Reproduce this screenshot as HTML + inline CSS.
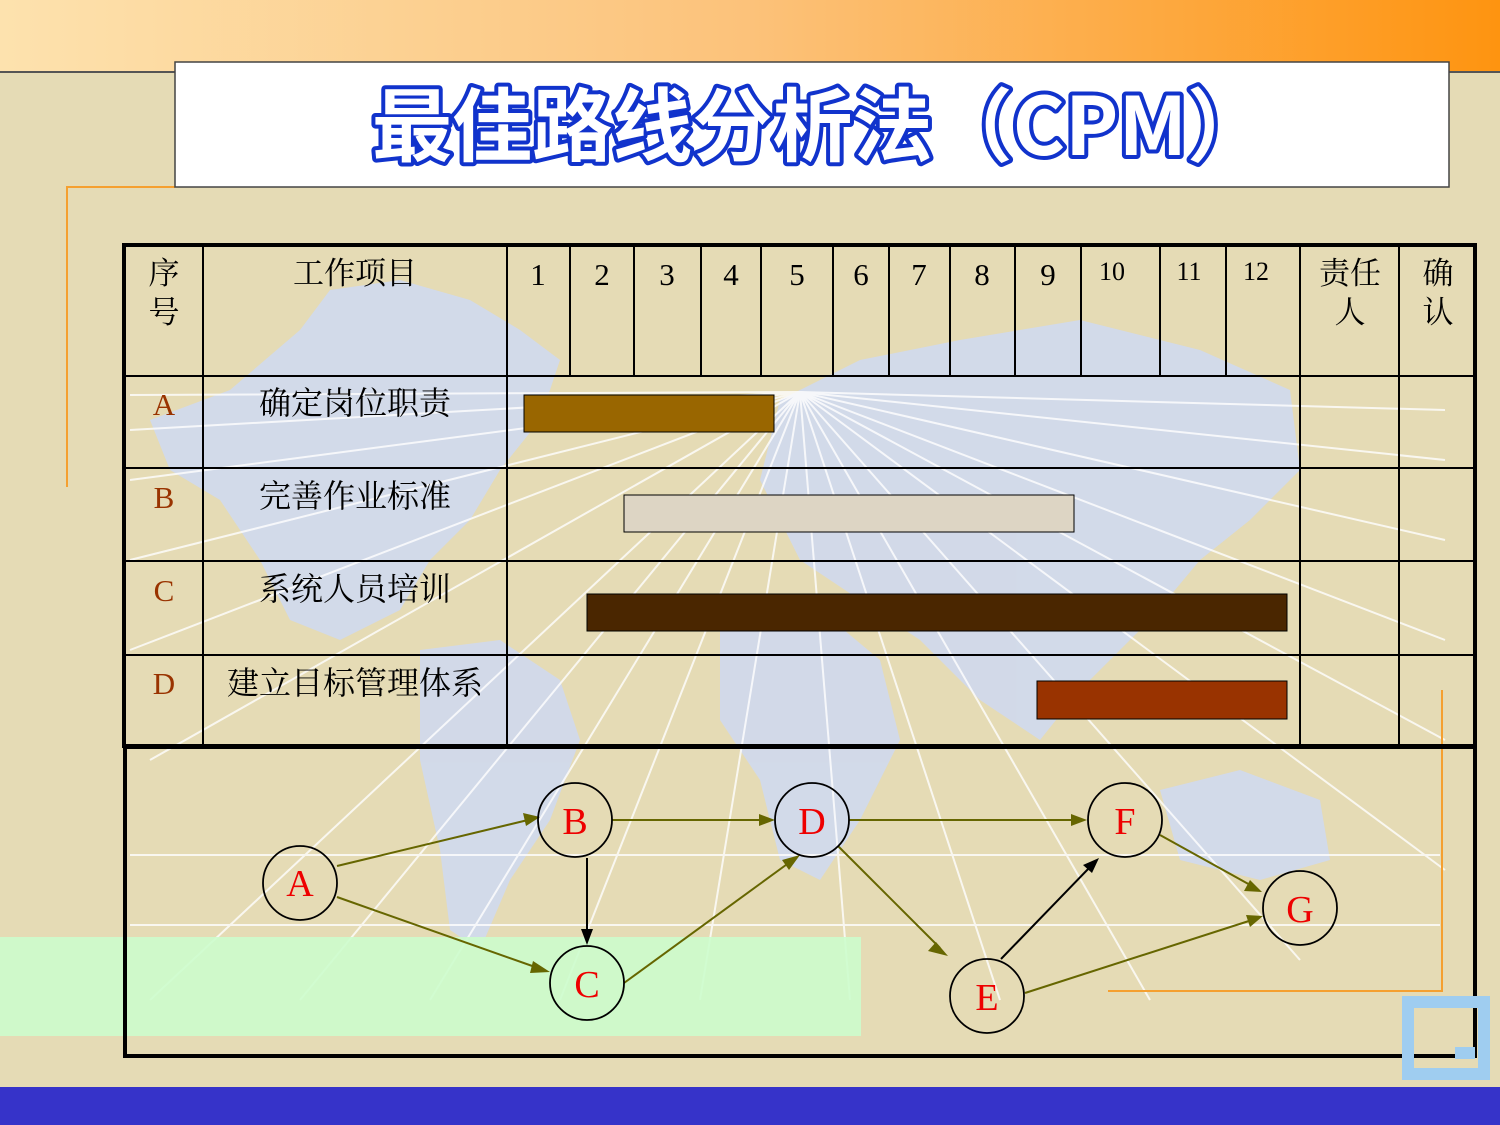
<!DOCTYPE html>
<html><head><meta charset="utf-8"><style>
html,body{margin:0;padding:0;width:1500px;height:1125px;overflow:hidden;background:#e5dbb5;}
svg{display:block}
</style></head><body>
<svg width="1500" height="1125" viewBox="0 0 1500 1125" xmlns="http://www.w3.org/2000/svg">
<defs>
<linearGradient id="tg" x1="0" x2="1" y1="0" y2="0">
<stop offset="0" stop-color="#fde2ae"/><stop offset="0.5" stop-color="#fcc27a"/><stop offset="1" stop-color="#fe9410"/>
</linearGradient>
</defs>
<rect width="1500" height="1125" fill="#e5dbb5"/>
<g fill="#cfd9f2" opacity="0.85">
<path d="M150 420 L230 390 L300 330 L330 290 L400 280 L470 300 L520 330 L560 360 L540 420 L500 470 L470 520 L430 560 L400 610 L340 640 L290 620 L260 560 L220 500 L170 470 Z"/>
<path d="M420 650 L500 640 L560 680 L580 740 L550 820 L510 880 L480 950 L450 930 L440 850 L420 760 Z"/>
<path d="M780 400 L860 360 L960 340 L1080 320 L1200 350 L1290 390 L1300 470 L1250 520 L1200 560 L1150 620 L1080 690 L1040 740 L980 700 L920 640 L860 600 L800 560 L760 480 Z"/>
<path d="M720 620 L820 610 L880 660 L900 740 L860 820 L820 880 L780 860 L760 780 L720 720 Z"/>
<path d="M1160 790 L1240 770 L1320 800 L1330 860 L1260 880 L1180 860 Z"/>
</g>
<g stroke="#ffffff" stroke-width="2" opacity="0.8">
<line x1="800" y1="392" x2="130" y2="395"/><line x1="800" y1="392" x2="130" y2="430"/><line x1="800" y1="392" x2="130" y2="480"/><line x1="800" y1="392" x2="130" y2="560"/><line x1="800" y1="392" x2="130" y2="650"/><line x1="800" y1="392" x2="150" y2="760"/><line x1="800" y1="392" x2="150" y2="1000"/><line x1="800" y1="392" x2="300" y2="1000"/><line x1="800" y1="392" x2="430" y2="1000"/><line x1="800" y1="392" x2="560" y2="1000"/><line x1="800" y1="392" x2="700" y2="1000"/><line x1="800" y1="392" x2="850" y2="1000"/><line x1="800" y1="392" x2="1000" y2="1000"/><line x1="800" y1="392" x2="1150" y2="1000"/><line x1="800" y1="392" x2="1300" y2="960"/><line x1="800" y1="392" x2="1445" y2="870"/><line x1="800" y1="392" x2="1445" y2="740"/><line x1="800" y1="392" x2="1445" y2="640"/><line x1="800" y1="392" x2="1445" y2="540"/><line x1="800" y1="392" x2="1445" y2="460"/><line x1="800" y1="392" x2="1445" y2="410"/>
<line x1="130" y1="855" x2="1440" y2="855"/><line x1="130" y1="925" x2="1440" y2="925"/>
</g>
<rect x="0" y="0" width="1500" height="72" fill="url(#tg)"/>
<line x1="0" y1="72" x2="1500" y2="72" stroke="#555" stroke-width="2"/>
<g stroke="#f5a030" stroke-width="2" fill="none">
<path d="M175 187 H67 V487"/>
<path d="M1442 690 V991 H1108"/>
</g>
<rect x="175" y="62" width="1274" height="125" fill="#fff" stroke="#444" stroke-width="1.5"/>
<text x="372" y="155" textLength="895" lengthAdjust="spacingAndGlyphs" font-family="'WenQuanYi Zen Hei','Noto Sans CJK SC',sans-serif" font-size="80" font-weight="bold" fill="#fff" stroke="#1133cc" stroke-width="8" stroke-linejoin="round" paint-order="stroke">最佳路线分析法（CPM）</text>
<rect x="0" y="937" width="861" height="99" fill="#ccfccc" opacity="0.9"/>
<rect x="524" y="395" width="250" height="37" fill="#996600" stroke="#000"/>
<rect x="624" y="495" width="450" height="37" fill="#ddd5c4" stroke="#000"/>
<rect x="587" y="594" width="700" height="37" fill="#4a2600" stroke="#000"/>
<rect x="1037" y="681" width="250" height="38" fill="#993300" stroke="#000"/>
<g stroke="#000" fill="none">
<rect x="124" y="245" width="1351" height="501" stroke-width="4"/>
<line x1="124" y1="376" x2="1475" y2="376" stroke-width="2"/>
<line x1="124" y1="468" x2="1475" y2="468" stroke-width="2"/>
<line x1="124" y1="561" x2="1475" y2="561" stroke-width="2"/>
<line x1="124" y1="655" x2="1475" y2="655" stroke-width="2"/>
<g stroke-width="2">
<line x1="203" y1="245" x2="203" y2="746"/><line x1="507" y1="245" x2="507" y2="746"/><line x1="1300" y1="245" x2="1300" y2="746"/><line x1="1399" y1="245" x2="1399" y2="746"/>
<line x1="570" y1="245" x2="570" y2="376"/><line x1="634" y1="245" x2="634" y2="376"/><line x1="701" y1="245" x2="701" y2="376"/><line x1="761" y1="245" x2="761" y2="376"/><line x1="833" y1="245" x2="833" y2="376"/><line x1="889" y1="245" x2="889" y2="376"/><line x1="950" y1="245" x2="950" y2="376"/><line x1="1015" y1="245" x2="1015" y2="376"/><line x1="1081" y1="245" x2="1081" y2="376"/><line x1="1160" y1="245" x2="1160" y2="376"/><line x1="1226" y1="245" x2="1226" y2="376"/>
</g>
<rect x="125" y="747" width="1350" height="309" stroke-width="4"/>
</g>
<g font-family="'Liberation Serif','Noto Serif CJK SC',serif" font-size="31" fill="#000" text-anchor="middle">
<text x="164" y="284">序</text><text x="164" y="323">号</text>
<text x="355" y="284">工作项目</text>
<text x="538" y="285">1</text><text x="602" y="285">2</text><text x="667" y="285">3</text><text x="731" y="285">4</text><text x="797" y="285">5</text><text x="861" y="285">6</text><text x="919" y="285">7</text><text x="982" y="285">8</text><text x="1048" y="285">9</text>
<text x="1112" y="280" font-size="26">10</text><text x="1189" y="280" font-size="26">11</text><text x="1256" y="280" font-size="26">12</text>
<text x="1350" y="284">责任</text><text x="1350" y="323">人</text>
<text x="1438" y="284">确</text><text x="1438" y="323">认</text>
<text x="355" y="414" font-size="32">确定岗位职责</text><text x="355" y="507" font-size="32">完善作业标准</text><text x="355" y="600" font-size="32">系统人员培训</text><text x="355" y="694" font-size="32">建立目标管理体系</text>
<g fill="#993300"><text x="164" y="415">A</text><text x="164" y="508">B</text><text x="164" y="601">C</text><text x="164" y="694">D</text></g>
</g>
<g fill="none" stroke-width="2">
<g stroke="#666600">
<line x1="337" y1="866" x2="528" y2="820"/><line x1="337" y1="897" x2="538" y2="968"/><line x1="612" y1="820" x2="764" y2="820"/><line x1="624" y1="983" x2="790" y2="862"/><line x1="849" y1="820" x2="1076" y2="820"/><line x1="838" y1="846" x2="940" y2="948"/><line x1="1025" y1="993" x2="1252" y2="920"/><line x1="1160" y1="835" x2="1252" y2="886"/>
</g>
<g stroke="#000"><line x1="587" y1="858" x2="587" y2="933"/><line x1="1001" y1="959" x2="1091" y2="866"/></g>
</g>
<g fill="#666600">
<polygon points="540,817 523,813 526,826"/>
<polygon points="550,972 533,961 530,973"/>
<polygon points="775,820 759,814 759,826"/>
<polygon points="800,855 782,860 789,870"/>
<polygon points="1087,820 1071,814 1071,826"/>
<polygon points="948,956 936,942 928,951"/>
<polygon points="1263,916 1246,915 1250,927"/>
<polygon points="1262,892 1250,880 1244,891"/>
</g>
<g fill="#000"><polygon points="587,945 581,929 593,929"/><polygon points="1099,858 1083,865 1092,873"/></g>
<g fill="none" stroke="#000" stroke-width="1.8">
<circle cx="300" cy="883" r="37"/><circle cx="575" cy="820" r="37"/><circle cx="587" cy="983" r="37"/><circle cx="812" cy="820" r="37"/><circle cx="987" cy="996" r="37"/><circle cx="1125" cy="820" r="37"/><circle cx="1300" cy="908" r="37"/>
</g>
<g font-family="'Liberation Serif',serif" font-size="38" fill="#ee0000" text-anchor="middle">
<text x="300" y="896">A</text><text x="575" y="834">B</text><text x="587" y="997">C</text><text x="812" y="834">D</text><text x="987" y="1010">E</text><text x="1125" y="834">F</text><text x="1300" y="922">G</text>
</g>
<rect x="1408" y="1002" width="76" height="72" fill="none" stroke="#9fcdf0" stroke-width="12"/>
<rect x="1455" y="1047" width="20" height="12" fill="#9fcdf0"/>
<rect x="0" y="1087" width="1500" height="38" fill="#3633c9"/>
</svg>
</body></html>
